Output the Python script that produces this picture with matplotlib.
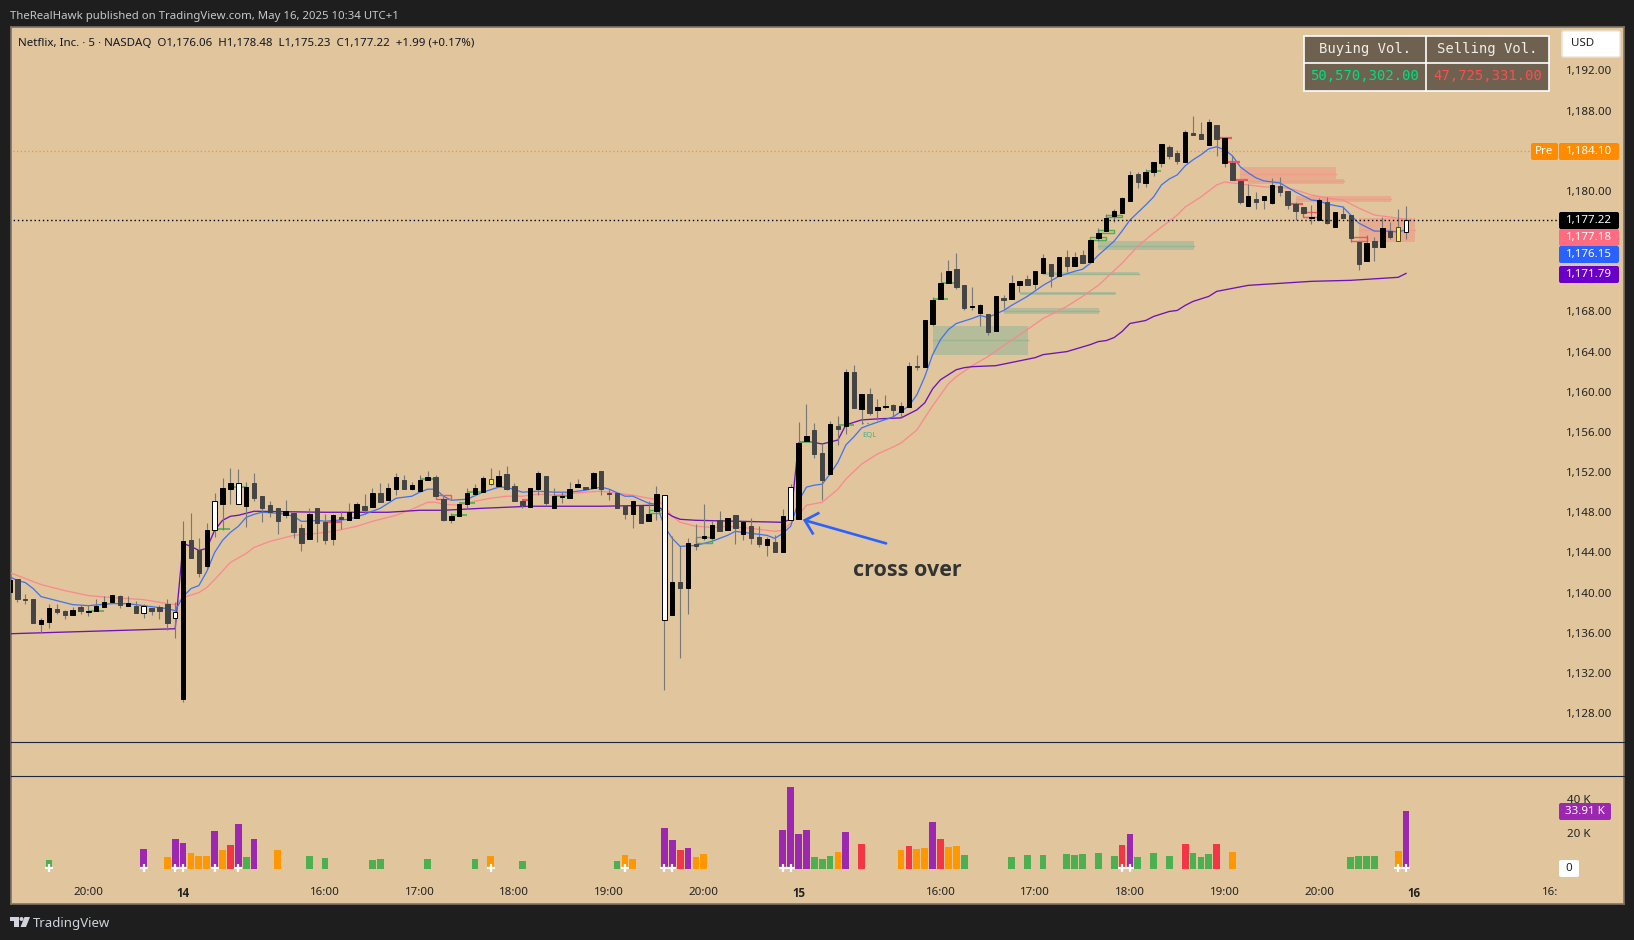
import matplotlib
matplotlib.use('Agg')
import matplotlib.pyplot as plt
from matplotlib.patches import Rectangle, Polygon, Circle, FancyBboxPatch

plt.rcParams['font.family'] = ['Noto Sans', 'DejaVu Sans']

BG = '#e0c59d'
DARK = '#1e1e1e'

# candle bodies and wicks, one value per 5 minute bar (price)
body_top = [
    1141.3,1141.4,1139.4,1139.4,1137.3,1138.5,1138.4,1138.2,1138.3,1138.6,
    1138.2,1138.7,1139.1,1139.8,1139.7,1139.0,1138.7,1138.7,1138.5,1138.6,
    1138.9,1138.1,1145.1,1145.2,1144.2,1146.2,1149.1,1150.4,1150.9,1150.9,
    1150.5,1150.9,1149.6,1148.7,1148.4,1148.1,1147.9,1146.4,1147.8,1148.4,
    1147.0,1147.7,1147.5,1148.0,1148.8,1148.6,1149.9,1149.9,1150.4,1151.5,
    1151.2,1150.7,1151.2,1151.5,1151.5,1149.3,1147.6,1148.8,1149.9,1150.4,
    1151.4,1151.3,1151.6,1151.8,1150.6,1149.1,1150.4,1151.9,1151.6,1149.6,
    1149.6,1150.3,1150.8,1150.5,1151.9,1152.1,1149.9,1149.9,1148.6,1149.1,
    1148.7,1147.8,1149.8,1149.7,1141.1,1141.1,1144.9,1144.8,1145.6,1146.7,
    1147.2,1147.4,1147.7,1147.0,1146.6,1145.5,1145.3,1145.0,1147.6,1150.5,
    1154.9,1155.6,1156.2,1153.9,1156.8,1156.6,1162.0,1162.0,1159.8,1159.8,
    1158.5,1158.6,1158.7,1158.6,1162.6,1162.6,1167.1,1169.1,1170.8,1172.0,
    1172.2,1170.6,1168.5,1168.6,1167.7,1169.5,1169.3,1170.8,1171.0,1171.2,
    1172.0,1173.3,1172.7,1173.4,1173.4,1173.4,1173.6,1175.1,1175.8,1177.3,
    1178.0,1179.3,1181.6,1181.7,1181.9,1182.9,1184.7,1184.4,1183.8,1185.9,
    1185.8,1185.7,1186.9,1186.6,1185.3,1182.8,1181.0,1179.5,1179.2,1179.5,
    1180.6,1180.5,1180.0,1178.7,1178.4,1177.4,1179.1,1178.9,1177.9,1177.7,
    1177.6,1174.9,1174.8,1175.0,1176.3,1176.0,1176.4,1177.1]
body_bot = [
    1140.1,1139.4,1139.3,1137.0,1136.9,1137.1,1138.1,1137.8,1137.8,1138.2,
    1138.1,1138.2,1138.6,1139.1,1138.8,1138.7,1138.0,1138.0,1138.2,1138.2,
    1137.0,1137.5,1129.4,1143.4,1142.0,1142.6,1146.2,1148.8,1150.3,1148.8,
    1148.6,1149.4,1148.4,1148.0,1147.1,1147.7,1146.0,1144.9,1145.3,1146.9,
    1145.2,1145.3,1147.3,1147.2,1147.4,1148.2,1148.5,1149.0,1149.2,1150.3,
    1150.3,1150.3,1150.1,1151.2,1149.6,1147.2,1147.2,1147.6,1148.8,1149.8,
    1150.0,1150.8,1150.6,1150.3,1149.1,1148.7,1148.5,1150.3,1148.9,1148.4,
    1149.5,1149.4,1150.5,1150.3,1150.4,1150.3,1149.8,1148.4,1147.8,1147.8,
    1146.9,1147.1,1148.1,1137.3,1137.8,1140.5,1140.5,1144.6,1145.4,1145.4,
    1146.1,1146.2,1146.4,1145.8,1145.4,1144.8,1144.7,1144.0,1144.0,1147.2,
    1147.3,1155.1,1153.8,1151.2,1151.8,1156.3,1156.6,1158.4,1158.3,1157.9,
    1158.2,1158.5,1158.2,1158.0,1158.5,1162.5,1162.5,1166.8,1169.2,1170.8,
    1170.4,1168.3,1168.4,1167.8,1166.0,1166.1,1169.1,1169.2,1170.6,1170.6,
    1170.7,1171.8,1171.5,1171.5,1172.5,1172.5,1172.8,1172.9,1175.3,1176.0,
    1177.5,1177.8,1179.0,1180.9,1180.8,1181.9,1182.8,1183.5,1183.0,1182.9,
    1185.6,1185.2,1184.6,1185.2,1182.8,1181.1,1178.9,1178.5,1178.9,1179.1,
    1178.8,1179.9,1178.6,1178.0,1177.8,1177.3,1177.1,1176.8,1176.4,1177.3,
    1175.3,1172.7,1173.0,1174.4,1174.4,1175.4,1175.0,1175.9]
highs = [
    1142.2,1141.4,1139.9,1139.4,1137.5,1138.9,1138.9,1138.3,1138.6,1138.8,
    1138.8,1139.4,1139.7,1139.8,1139.8,1139.7,1139.2,1138.9,1138.5,1138.8,
    1139.4,1139.1,1147.1,1147.9,1145.4,1146.9,1149.9,1151.4,1152.4,1152.3,
    1151.0,1151.9,1149.6,1149.1,1148.4,1149.2,1147.9,1146.8,1148.4,1148.4,
    1147.8,1147.8,1148.1,1148.9,1149.0,1149.8,1150.4,1150.9,1150.9,1151.9,
    1151.7,1151.0,1151.7,1152.1,1151.7,1149.6,1147.9,1148.8,1150.4,1150.8,
    1151.6,1152.4,1152.2,1152.6,1150.9,1149.2,1150.4,1152.1,1151.6,1150.4,
    1150.0,1151.0,1151.3,1150.5,1152.0,1152.1,1150.3,1149.9,1148.6,1149.1,
    1148.7,1149.1,1150.6,1149.7,1145.6,1144.6,1145.4,1146.8,1148.8,1147.1,
    1148.1,1147.4,1147.7,1147.0,1147.4,1146.6,1145.5,1145.7,1148.3,1150.8,
    1157.0,1158.8,1156.9,1154.8,1157.1,1157.6,1162.3,1162.7,1159.8,1160.4,
    1159.3,1159.7,1158.8,1159.0,1163.0,1163.7,1167.1,1169.4,1171.9,1173.1,
    1173.8,1170.6,1170.4,1168.7,1167.7,1169.5,1169.6,1171.6,1171.0,1171.6,
    1172.0,1173.7,1172.7,1173.4,1174.1,1173.9,1174.1,1175.1,1176.3,1177.7,
    1178.2,1179.4,1182.0,1181.9,1182.2,1182.9,1184.7,1184.6,1184.1,1186.1,
    1187.5,1186.9,1187.2,1186.6,1185.3,1183.5,1181.0,1180.7,1179.9,1179.5,
    1181.3,1181.4,1180.0,1178.9,1178.4,1178.6,1179.3,1179.4,1177.9,1178.5,
    1177.6,1174.9,1175.6,1175.4,1177.4,1176.9,1178.2,1178.48]
lows = [
    1139.9,1139.1,1138.9,1137.0,1136.0,1136.5,1137.9,1137.4,1137.8,1137.9,
    1137.7,1138.2,1138.6,1139.1,1138.5,1138.7,1138.0,1137.5,1137.8,1137.4,
    1136.3,1135.5,1129.1,1143.4,1141.6,1142.4,1145.5,1146.2,1148.8,1148.8,
    1146.5,1149.1,1147.0,1147.5,1145.8,1147.4,1145.4,1144.1,1145.3,1145.0,
    1144.8,1144.7,1146.3,1147.2,1147.4,1147.8,1148.5,1149.0,1149.2,1149.7,
    1150.3,1150.2,1150.1,1151.2,1149.6,1147.1,1146.9,1147.6,1148.3,1149.8,
    1150.0,1150.7,1150.6,1150.2,1149.1,1148.4,1148.5,1149.7,1148.7,1148.4,
    1148.9,1149.4,1150.5,1150.2,1150.4,1149.7,1149.2,1148.4,1147.3,1146.4,
    1146.9,1147.1,1147.2,1130.3,1137.8,1133.5,1137.9,1144.2,1145.2,1145.4,
    1146.1,1146.2,1144.8,1145.2,1144.8,1144.5,1143.6,1144.0,1144.0,1147.2,
    1147.3,1155.1,1153.4,1149.2,1151.8,1154.7,1155.8,1158.4,1156.8,1157.7,
    1157.2,1158.3,1157.6,1157.5,1158.5,1162.2,1162.5,1166.6,1169.2,1170.8,
    1170.2,1168.1,1168.1,1166.6,1165.7,1166.1,1168.3,1169.2,1169.9,1170.6,
    1170.2,1171.8,1170.4,1171.5,1171.9,1172.5,1172.8,1172.9,1175.0,1176.0,
    1176.9,1177.8,1179.0,1180.3,1180.4,1181.5,1182.4,1183.2,1182.7,1182.9,
    1185.6,1185.2,1184.6,1183.5,1182.4,1181.1,1178.7,1178.5,1178.2,1178.2,
    1178.7,1179.5,1178.2,1177.1,1177.4,1176.7,1177.1,1176.7,1176.4,1177.3,
    1174.9,1172.1,1173.0,1173.0,1174.4,1175.2,1175.0,1175.23]
candle_kind = ('kgggkkggkg' 'kkkkgkgwgg' 'gwkggkwkkw' 'kggggkggkg' 'gkgkkgkgkk'
               'gkkkggkkkk' 'kykgggkkgk' 'kkkgkggggk' 'gkkwkgkgkk' 'gkgkggkgkw'
               'kkggkgkgkg' 'kkgkkgkkkk' 'ggkkgkgkkg' 'kkgkgkgkkk' 'kkkgkkkggk'
               'ggkgkggkgk' 'kggggkkgkg' 'ggkgkgyw')

# moving average lines, read at the bars listed
vwap_bars = [0,21,22,23,24,25,26,27,28,29,30,31,40,48,52,55,60,66,75,82,83,84,85,
             87,98,99,100,101,103,105,106,108,110,113,115,116,117,118,119,120,121,
             122,125,130,131,134,137,138,139,140,141,142,144,145,147,148,149,150,
             152,153,155,157,161,165,170,176,177]
vwap_vals = [1135.9,1136.4,1144.9,1144.6,1144.2,1144.4,1146.2,1147.2,1147.6,1147.7,
             1147.9,1148.1,1148.0,1148.0,1148.2,1148.2,1148.4,1148.6,1148.6,1148.7,
             1148.1,1147.6,1147.3,1147.2,1147.0,1147.3,1154.9,1155.1,1154.8,1155.2,
             1156.7,1157.2,1157.3,1157.4,1158.2,1158.9,1160.3,1161.2,1161.7,1162.2,
             1162.4,1162.5,1162.6,1163.4,1163.7,1164.0,1164.7,1165.0,1165.1,1165.4,
             1166.0,1166.8,1167.1,1167.5,1168.0,1168.1,1168.6,1169.0,1169.5,1170.0,
             1170.3,1170.6,1170.8,1171.0,1171.1,1171.4,1171.79]
blue_bars = [0,1,2,3,4,6,8,10,13,15,17,20,21,22,23,24,25,26,27,28,29,30,31,32,34,35,
             36,37,38,39,40,43,45,47,49,51,52,53,54,55,56,58,60,62,63,65,67,69,71,
             73,75,76,78,79,81,82,83,84,85,87,88,89,91,92,94,96,97,98,99,100,101,
             102,103,104,105,106,107,108,109,112,114,115,116,117,118,119,120,122,
             123,124,126,127,129,131,133,135,136,137,138,140,141,142,144,145,146,
             147,148,149,150,151,152,153,154,155,156,157,158,159,161,163,165,166,
             167,169,170,171,172,173,175,176,177]
blue_vals = [1141.6,1141.2,1141.0,1140.4,1139.6,1139.2,1138.8,1138.7,1138.9,1138.9,
             1138.7,1138.4,1138.2,1139.6,1140.4,1140.7,1142.1,1144.0,1145.2,1146.0,
             1146.6,1147.5,1147.8,1148.0,1147.9,1147.8,1147.6,1147.1,1147.1,1147.2,
             1147.1,1147.3,1147.8,1148.4,1149.4,1149.6,1150.0,1150.3,1150.3,1149.6,
             1149.2,1149.3,1150.0,1150.5,1150.5,1150.0,1150.1,1150.0,1150.0,1150.2,
             1150.5,1150.3,1149.6,1149.6,1148.9,1148.8,1146.6,1145.4,1144.6,1144.7,
             1144.9,1145.1,1145.7,1146.1,1145.9,1145.7,1145.4,1145.9,1146.6,1149.1,
             1150.5,1150.7,1150.8,1151.8,1153.0,1154.7,1155.5,1156.4,1156.7,1157.5,
             1158.6,1159.7,1161.5,1163.7,1165.2,1166.2,1166.8,1167.3,1167.6,1167.4,
             1168.1,1168.6,1169.5,1170.6,1171.5,1172.0,1172.2,1172.8,1173.6,1175.0,
             1176.0,1177.1,1178.6,1179.4,1180.6,1181.2,1181.6,1182.5,1183.1,1183.6,
             1184.2,1184.4,1184.1,1183.5,1182.4,1181.8,1181.3,1181.0,1180.8,1179.9,
             1179.1,1179.0,1178.7,1178.4,1177.6,1176.8,1176.4,1176.0,1176.0,1175.9,
             1176.15]
pink_bars = [0,1,3,4,7,10,13,17,20,21,22,24,25,26,28,30,31,33,35,36,39,41,44,46,49,
             51,53,54,55,57,59,61,63,65,67,69,73,75,77,79,81,82,83,84,85,87,89,91,
             94,97,98,99,100,101,103,105,106,108,110,112,113,115,117,119,120,122,
             124,126,129,131,134,136,138,141,143,145,148,149,151,153,154,157,159,
             161,163,165,167,169,171,173,175,177]
pink_vals = [1142.0,1141.7,1141.1,1140.8,1140.2,1139.7,1139.5,1139.3,1138.9,1138.8,
             1139.5,1140.0,1140.5,1141.3,1143.0,1143.9,1144.5,1145.1,1145.5,1145.7,
             1145.9,1146.1,1146.6,1147.1,1147.7,1148.3,1149.0,1149.0,1148.8,1148.7,
             1149.1,1149.4,1149.6,1149.6,1149.8,1149.7,1150.0,1150.1,1149.9,1149.7,
             1149.4,1149.3,1148.6,1147.6,1147.0,1146.6,1146.5,1146.6,1146.4,1146.1,
             1146.2,1146.9,1147.7,1148.7,1149.0,1150.3,1151.3,1152.8,1153.8,1154.5,
             1154.9,1156.2,1158.6,1160.8,1161.5,1162.6,1163.5,1164.6,1166.2,1167.3,
             1168.5,1169.5,1170.6,1172.8,1174.5,1175.8,1177.6,1178.4,1179.4,1180.6,
             1180.9,1180.6,1180.4,1180.4,1180.1,1179.6,1179.3,1179.1,1178.3,1177.6,
             1177.4,1177.18]

# zones: start bar, end bar, upper price, lower price
green_x0 = [117.1,126.0,128.1,131.0,138.0]
green_x1 = [129.1,138.1,140.1,143.2,150.1]
green_hi = [1166.55,1168.35,1169.94,1171.9,1175.0]
green_lo = [1163.67,1167.75,1169.64,1171.6,1174.1]
red_x0 = [156.0,157.0,163.0,171.0]
red_x1 = [168.1,169.1,175.1,178.1]
red_hi = [1182.4,1181.2,1179.5,1177.3]
red_lo = [1181.0,1180.7,1178.9,1174.9]

# short level marks: start bar, end bar, price
green_lv_x0 = [10,26,28,52,56,57,58,69,100,105,117,118,144]
green_lv_x1 = [12,28,30,53.8,58,59,60,71,102,107,119,120,146]
green_lv_y = [1138.2,1146.3,1150.5,1151.3,1147.7,1148.9,1150.0,1149.6,1155.0,1156.7,1169.2,1170.8,1182.0]
red_lv_x0 = [40,65,153,154,155,162]
red_lv_x1 = [42,66,155,156,157,164]
red_lv_y = [1147.0,1149.2,1185.3,1182.9,1181.1,1178.7]
# hollow boxes: start bar, end bar, upper, lower
hollow_green = [(81,83,1148.2,1147.9),(87,89,1145.5,1144.9),(137,139,1175.4,1175.15),
                (138,140,1176.1,1175.85),(139,141,1177.6,1177.4)]
hollow_red = [(54,56,1149.7,1149.3),(164,166,1177.9,1177.4),(170,172,1175.4,1175.0)]

# volume pane
vol_bars = [5,17,20,21,22,23,24,25,26,27,28,29,30,31,34,38,40,46,47,53,59,61,65,77,78,79,
            83,84,85,86,87,88,98,99,100,101,102,103,104,105,106,108,113,114,115,116,117,
            118,119,120,121,127,129,131,134,135,136,138,140,141,142,143,145,147,149,150,
            151,152,153,155,170,171,172,173,176,177]
vol_k = [5.2,11.6,7.0,17.4,15.1,9.3,7.5,7.5,22.0,11.0,13.9,26.1,7.0,17.4,11.0,7.5,6.4,5.2,
         5.8,5.8,5.8,7.5,4.6,4.6,8.1,5.8,23.8,16.8,11.0,12.2,7.0,8.7,22.6,47.5,20.3,22.6,
         7.0,5.8,7.5,9.9,21.4,14.5,11.0,13.3,11.6,12.2,27.2,17.4,12.8,13.3,8.1,7.0,8.1,
         8.1,8.7,8.1,8.7,9.3,7.5,13.9,20.3,7.0,9.3,7.5,14.5,9.3,7.0,8.7,14.5,9.9,7.0,7.5,
         7.5,7.5,10.4,33.91]
vol_kind = ('gpoppoooporpgpo' 'gggggg' 'oggoo' 'pprpoo' 'pppp' 'gggo' 'pr' 'orooproo'
            'g' 'ggg' 'ggg' 'ggrpg' 'ggrggg' 'ro' 'gggg' 'op')
plus_bars = [5,17,21,22,26,29,61,78,83,84,98,99,141,142,176,177]

price_ticks = [1192,1188,1180,1168,1164,1160,1156,1152,1148,1144,1140,1136,1132,1128]
vol_ticks = [20,40]
vol_tick_labels = ['20 K','40 K']
time_ticks = [10,22,40,52,64,76,88,100,118,130,142,154,166,178,195.3]
time_labels = ['20:00','14','16:00','17:00','18:00','19:00','20:00','15','16:00','17:00',
               '18:00','19:00','20:00','16','16:']
pre_level = 1183.95
last_level = 1177.08
arrow_x = [111.1,100.8]
arrow_y = [1144.9,1147.2]
arrow_head_x = [102.5,100.8,101.8]
arrow_head_y = [1147.9,1147.2,1145.9]

W, H = 1634, 940
BODY_W = 4.4 / 7.89


def px_axes(x0, y0, x1, y1):
    return fig.add_axes([x0 / W, 1 - y1 / H, (x1 - x0) / W, (y1 - y0) / H])


fig = plt.figure(figsize=(W / 100, H / 100), dpi=100, facecolor=DARK)

panel = px_axes(10.5, 27, 1623.5, 904)
panel.set_facecolor(BG)
panel.set_xticks([])
panel.set_yticks([])
for s in panel.spines.values():
    s.set_color('#7d7466')
    s.set_linewidth(1.2)

ax = px_axes(10.5, 27, 1623.5, 742.3)
ax.patch.set_alpha(0)
ax.set_xlim(0.127, 204.56)
ax.set_ylim(1125.09, 1196.33)
for s in ax.spines.values():
    s.set_visible(False)
ax.spines['bottom'].set_visible(True)
ax.spines['bottom'].set_color('#1c2840')
ax.set_xticks([])
ax.yaxis.tick_right()
ax.set_yticks(price_ticks)
ax.set_yticklabels([f'{v:,.2f}' for v in price_ticks], ha='right')
ax.tick_params(axis='y', length=0, pad=-7.9, labelsize=8.3, labelcolor='#222222')

# zones
for x0, x1, hi, lo in zip(green_x0, green_x1, green_hi, green_lo):
    ax.add_patch(Rectangle((x0, lo), x1 - x0, hi - lo, fc='#b5bc9a', ec='none', zorder=1))
    ax.plot([x0, x1], [(hi + lo) / 2] * 2, color='#9cb492', lw=0.9, zorder=1.1)
for x0, x1, hi, lo in zip(red_x0, red_x1, red_hi, red_lo):
    ax.add_patch(Rectangle((x0, lo), x1 - x0, hi - lo, fc='#e8ab8d', ec='none', zorder=1))
    ax.plot([x0, x1], [(hi + lo) / 2] * 2, color='#ee9d88', lw=0.9, zorder=1.1)

ax.hlines(pre_level, 0, 192.8, color='#f7931a', lw=0.9, ls=(0, (1, 2)), zorder=1.5)
ax.hlines(last_level, 0, 196.4, color='black', lw=1.0, ls=(0, (1, 2)), zorder=5)

# indicator lines
ax.plot(pink_bars, pink_vals, color='#fd8790', lw=0.9, zorder=2)
ax.plot(vwap_bars, vwap_vals, color='#6f12b8', lw=0.95, zorder=2.1)
ax.plot(blue_bars, blue_vals, color='#3d72f5', lw=0.9, zorder=2.2)

# level marks
ax.hlines(green_lv_y, green_lv_x0, green_lv_x1, color='#4caf50', lw=1.2, zorder=2.5)
ax.hlines(red_lv_y, red_lv_x0, red_lv_x1, color='#f7525f', lw=1.6, zorder=2.5)
for x0, x1, hi, lo in hollow_green:
    ax.add_patch(Rectangle((x0, lo), x1 - x0, hi - lo, fc='none', ec='#4caf50', lw=1, zorder=2.5))
for x0, x1, hi, lo in hollow_red:
    ax.add_patch(Rectangle((x0, lo), x1 - x0, hi - lo, fc='none', ec='#f7525f', lw=1, zorder=2.5))
ax.hlines(1156.9, 108, 110, color='#2e9e7f', lw=0.9, ls=(0, (1, 3)), zorder=2.5)
ax.text(109, 1155.6, 'EQL', color='#4fae8f', fontsize=5.5, ha='center', va='center')

# candles
bar_ids = list(range(len(body_top)))
face = {'k': 'black', 'g': '#444444', 'w': 'white', 'y': '#ffeb3b'}
edge = {'k': 'black', 'g': '#444444', 'w': 'black', 'y': '#444444'}
ax.vlines(bar_ids, lows, highs, color='#787878', lw=0.8, zorder=3)
ax.bar(bar_ids, [t - b for t, b in zip(body_top, body_bot)], bottom=body_bot, width=BODY_W,
       color=[face[c] for c in candle_kind], edgecolor=[edge[c] for c in candle_kind],
       linewidth=0.7, zorder=4)

# annotation
ax.plot(arrow_x, arrow_y, color='#2962ff', lw=1.9, zorder=6, solid_capstyle='round')
ax.plot(arrow_head_x, arrow_head_y, color='#2962ff', lw=1.9, zorder=6, solid_joinstyle='miter')

# volume pane
vax = px_axes(10.5, 776.3, 1623.5, 904)
vax.patch.set_alpha(0)
vax.set_xlim(0.127, 204.56)
vax.set_ylim(-20.29, 53.74)
for s in vax.spines.values():
    s.set_visible(False)
vax.spines['top'].set_visible(True)
vax.spines['top'].set_color('#1c2840')
vol_colors = {'g': '#4caf50', 'o': '#ff9800', 'r': '#f23645', 'p': '#9c27b0'}
vax.bar(vol_bars, vol_k, width=0.86, color=[vol_colors[c] for c in vol_kind], zorder=2)
vax.plot(plus_bars, [0.7] * len(plus_bars), ls='none', marker='+', color='white', ms=5.5, mew=1.6, zorder=3)
vax.yaxis.tick_right()
vax.set_yticks(vol_ticks)
vax.set_yticklabels(vol_tick_labels, ha='left', va='center')
vax.tick_params(axis='y', length=0, pad=-41, labelsize=8.3, labelcolor='#222222')
vax.set_xticks(time_ticks)
vax.set_xticklabels(time_labels)
vax.tick_params(axis='x', length=0, pad=-12.5, labelsize=8.3, labelcolor='#222222')
for lab in vax.get_xticklabels():
    if lab.get_text() in ('14', '15', '16'):
        lab.set_family(['Open Sans', 'DejaVu Sans'])
        lab.set_fontweight('bold')

# overlay in pixel space for header, labels and the table
ov = fig.add_axes([0, 0, 1, 1], zorder=10)
ov.set_xlim(0, W)
ov.set_ylim(H, 0)
ov.axis('off')
ov.patch.set_alpha(0)


def label(x0, x1, y0, y1, color, text, tc='white', size=8.3, ec='none', tx=None):
    ov.add_patch(FancyBboxPatch((x0, y0), x1 - x0, y1 - y0, boxstyle='round,pad=0,rounding_size=2',
                                fc=color, ec=ec, lw=1))
    ov.text((x0 + x1) / 2 if tx is None else tx, (y0 + y1) / 2, text, color=tc, fontsize=size,
            ha='center', va='center')


ov.text(10, 16.5, 'TheRealHawk published on TradingView.com, May 16, 2025 10:34 UTC+1',
        color='#c8c8c8', fontsize=8.2, va='center')
ov.text(18, 43.5, 'Netflix, Inc. · 5 · NASDAQ  O1,176.06  H1,178.48  L1,175.23  C1,177.22  +1.99 (+0.17%)',
        color='#131722', fontsize=8.27, va='center')
ov.text(907, 571, 'cross over', color='#333333', fontsize=15.5, fontweight='bold', ha='center', va='center',
        family=['Open Sans', 'DejaVu Sans'])

label(1559, 1619, 212, 229, 'black', '1,177.22')
label(1559, 1619, 229, 246, '#ff6b81', '1,177.18')
label(1559, 1619, 246, 263, '#2962ff', '1,176.15')
label(1559, 1619, 266, 283, '#6a00c8', '1,171.79')
label(1559, 1619, 143, 160, '#ff8c00', '1,184.10')
label(1531, 1558, 143, 160, '#ff8c00', 'Pre')
label(1559, 1611, 803, 820, '#9c27b0', '33.91 K')
label(1559, 1579, 860, 877, 'white', '0', tc='#222222')
label(1562, 1620, 31, 57, 'white', 'USD', tc='#222222', ec='#ece6dc', tx=1582.5)

# buying / selling table
mono = 'DejaVu Sans Mono'
ov.add_patch(Rectangle((1304, 36), 245, 55, fc='#6e6150', ec='white', lw=1.2))
ov.plot([1304, 1549], [63, 63], color='white', lw=1.2)
ov.plot([1426, 1426], [36, 91], color='white', lw=1.2)
ov.text(1365, 49.5, 'Buying Vol.', color='#f0ede6', family=mono, fontsize=10, ha='center', va='center')
ov.text(1487.5, 49.5, 'Selling Vol.', color='#f0ede6', family=mono, fontsize=10, ha='center', va='center')
ov.text(1365, 76.5, '50,570,302.00', color='#00e07f', family=mono, fontsize=10, ha='center', va='center')
ov.text(1487.5, 76.5, '47,725,331.00', color='#ff4d4d', family=mono, fontsize=10, ha='center', va='center')

# footer logo and name
ov.add_patch(Polygon([(10, 917), (19, 917), (19, 927), (14.5, 927), (14.5, 921), (10, 921)], fc='#d1d4dc', ec='none'))
ov.add_patch(Circle((21.5, 919), 2, fc='#d1d4dc', ec='none'))
ov.add_patch(Polygon([(24.5, 917), (30, 917), (26, 927), (20.5, 927)], fc='#d1d4dc', ec='none'))
ov.text(33, 923, 'TradingView', color='#d1d4dc', fontsize=9.5, va='center')

fig.savefig('out.png', dpi=100, facecolor=DARK)
